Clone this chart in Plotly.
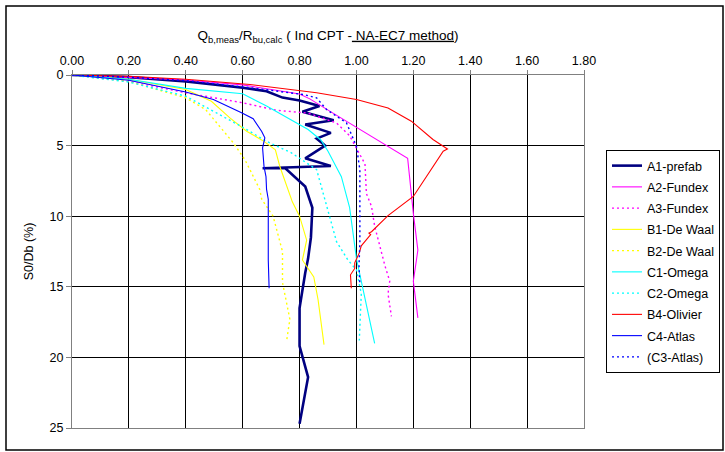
import plotly.graph_objects as go

# ---- data (x = Qb,meas/Rbu,calc, y = S0/Db in %) ----
a1_x = [0, 0.2, 0.4, 0.6, 0.684, 0.74, 0.80, 0.87, 0.81, 0.92, 0.82, 0.91, 0.86, 0.89, 0.82, 0.91, 0.67, 0.75, 0.82, 0.845, 0.84, 0.83, 0.82, 0.80, 0.80, 0.83, 0.80]
a1_y = [0, 0.15, 0.45, 0.9, 1.15, 1.6, 1.8, 2.2, 2.6, 3.2, 3.5, 4.1, 4.5, 5.0, 5.9, 6.45, 6.6, 6.6, 7.9, 9.4, 11.5, 13.0, 14.0, 16.5, 19.2, 21.4, 24.7]

a2_x = [0, 0.2, 0.4, 0.6, 0.8, 0.836, 0.906, 1.18, 1.2, 1.216, 1.2, 1.216]
a2_y = [0, 0.15, 0.35, 0.7, 1.35, 1.69, 2.56, 5.9, 9.8, 12.4, 14.6, 17.2]

a3_x = [0, 0.2, 0.4, 0.6, 0.72, 0.83, 0.93, 0.976, 1.03, 1.035, 1.053, 1.064, 1.1, 1.117, 1.111, 1.123]
a3_y = [0, 0.44, 1.26, 1.97, 2.5, 2.7, 3.4, 4.3, 6.3, 8.4, 9.3, 10.7, 13.5, 14.6, 15.5, 17.1]

b1_x = [0, 0.2, 0.4, 0.49, 0.555, 0.614, 0.675, 0.715, 0.731, 0.775, 0.80, 0.825, 0.81, 0.85, 0.865, 0.886]
b1_y = [0, 0.3, 1.03, 1.86, 3.04, 3.98, 4.7, 5.3, 6.5, 9.0, 10.0, 11.7, 13.1, 14.3, 15.9, 19.1]

b2_x = [0, 0.2, 0.4, 0.47, 0.567, 0.608, 0.66, 0.667, 0.707, 0.74, 0.74, 0.766, 0.754]
b2_y = [0, 0.45, 1.62, 2.45, 4.8, 6.0, 8.1, 8.8, 10.0, 12.5, 14.7, 17.3, 18.9]

c1_x = [0, 0.2, 0.4, 0.6, 0.684, 0.83, 0.875, 0.9, 0.947, 0.976, 1.0, 1.064]
c1_y = [0, 0.3, 0.95, 1.33, 2.2, 3.86, 4.6, 5.4, 7.2, 9.4, 13.0, 19.0]

c2_x = [0, 0.2, 0.4, 0.6, 0.684, 0.77, 0.86, 0.883, 0.906, 0.93, 0.97, 1.0, 1.017, 1.01]
c2_y = [0, 0.5, 1.5, 3.7, 4.7, 5.5, 6.7, 8.4, 10.1, 11.8, 13.1, 13.8, 15.5, 18.8]

b4_x = [0, 0.2, 0.4, 0.626, 0.86, 1.0, 1.111, 1.193, 1.269, 1.32, 1.305, 1.2, 1.111, 1.053, 1.044, 1.05, 1.017, 1.01, 0.994, 0.994, 0.979, 0.982]
b4_y = [0, 0.1, 0.3, 0.67, 1.26, 1.74, 2.33, 3.27, 4.57, 5.24, 5.4, 8.6, 9.96, 11.1, 11.2, 11.3, 12.1, 12.6, 13.3, 13.7, 14.15, 15.1]

c4_x = [0, 0.2, 0.4, 0.497, 0.596, 0.637, 0.667, 0.678, 0.67, 0.675, 0.682, 0.684, 0.69, 0.69, 0.693]
c4_y = [0, 0.37, 1.2, 1.74, 2.68, 3.1, 4.0, 4.45, 5.16, 6.47, 7.2, 8.1, 8.8, 13.1, 15.1]

c3_x = [0, 0.2, 0.4, 0.626, 0.813, 0.86, 0.895, 0.965, 1.0, 1.012, 1.012, 1.009, 1.012]
c3_y = [0, 0.15, 0.4, 0.9, 1.38, 1.62, 2.45, 3.39, 5.05, 6.7, 11.9, 13.5, 14.8]

x_ticks = [0, 0.2, 0.4, 0.6, 0.8, 1.0, 1.2, 1.4, 1.6, 1.8]
y_ticks = [0, 5, 10, 15, 20, 25]

series = [
    ("A1-prefab", a1_x, a1_y, "#000080", 2.6, "solid"),
    ("A2-Fundex", a2_x, a2_y, "#FF00FF", 1.1, "solid"),
    ("A3-Fundex", a3_x, a3_y, "#FF00FF", 1.4, "2px,3px"),
    ("B1-De Waal", b1_x, b1_y, "#FFFF00", 1.1, "solid"),
    ("B2-De Waal", b2_x, b2_y, "#FFFF00", 1.4, "2px,3px"),
    ("C1-Omega", c1_x, c1_y, "#00FFFF", 1.1, "solid"),
    ("C2-Omega", c2_x, c2_y, "#00FFFF", 1.4, "2px,3px"),
    ("B4-Olivier", b4_x, b4_y, "#FF0000", 1.1, "solid"),
    ("C4-Atlas", c4_x, c4_y, "#0000FF", 1.1, "solid"),
    ("(C3-Atlas)", c3_x, c3_y, "#0000FF", 1.4, "2px,3px"),
]

FONT = "Arial, Liberation Sans, sans-serif"

fig = go.Figure()
for name, xs, ys, col, w, dash in series:
    fig.add_trace(go.Scatter(x=xs, y=ys, mode="lines", name=name, legendgroup=name,
                             line=dict(color=col, width=w, dash=dash)))

L, R, T, B = 72, 141, 75, 24
W, H = 725, 452
pw, ph = W - L - R, H - T - B

fig.update_layout(
    width=W, height=H,
    margin=dict(l=L, r=R, t=T, b=B, pad=0, autoexpand=False),
    paper_bgcolor="white", plot_bgcolor="white",
    font=dict(family=FONT, size=12.5, color="black"),
    showlegend=True,
    legend=dict(x=(606 - L) / pw, y=(H - B - 150) / ph, xanchor="left", yanchor="top",
                bordercolor="black", borderwidth=1, bgcolor="white",
                font=dict(family=FONT, size=12.5, color="black"),
                tracegroupgap=2, traceorder="grouped"),
    xaxis=dict(side="top", range=[0, 1.8], tickvals=x_ticks, tickformat=".2f",
               showgrid=True, gridcolor="black", gridwidth=1,
               showline=True, mirror=True, linecolor="#808080", linewidth=1,
               ticks="outside", ticklen=4, tickcolor="#808080",
               zeroline=False, automargin=False,
               title=dict(text="Q<sub>b,meas</sub>/R<sub>bu,calc</sub> ( Ind CPT -<u> NA-EC7 method</u>)",
                          font=dict(size=13.5), standoff=10)),
    yaxis=dict(range=[25, 0], tickvals=y_ticks,
               showgrid=True, gridcolor="black", gridwidth=1,
               showline=True, mirror=True, linecolor="#808080", linewidth=1,
               ticks="outside", ticklen=5, tickcolor="#808080",
               zeroline=False, automargin=False,
               title=dict(text="S0/Db (%)", font=dict(size=12.5), standoff=13)),
    shapes=[dict(type="rect", xref="paper", yref="paper",
                 x0=(6 - L) / pw, x1=(723 - L) / pw,
                 y0=(H - B - 450) / ph, y1=(H - B - 6) / ph,
                 line=dict(color="black", width=1.5), layer="below")],
)

fig.write_html("out.html")
